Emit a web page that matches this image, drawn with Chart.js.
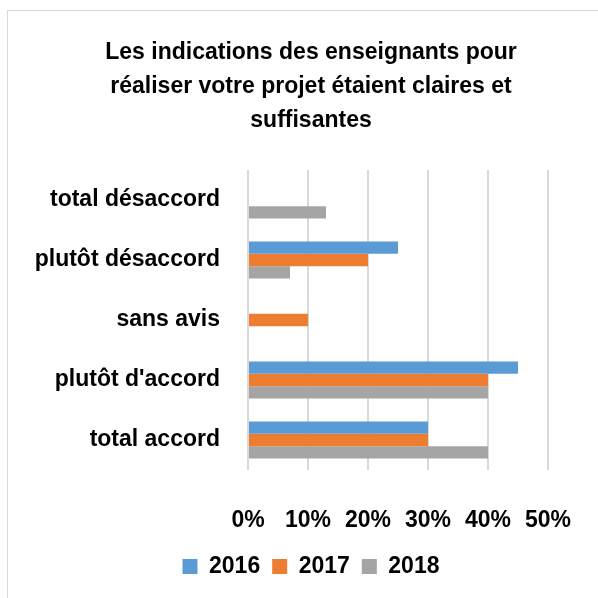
<!DOCTYPE html>
<html>
<head>
<meta charset="utf-8">
<script src="https://cdn.jsdelivr.net/npm/chart.js@4"></script>
<style>
  body { margin: 0; background: #fff; overflow: hidden; }
  #frame { position: absolute; left: 7px; top: 10px; border-left: 1px solid #d9d9d9; border-top: 1px solid #d9d9d9; }
  canvas { display: block; }
</style>
</head>
<body>
<div id="frame"><canvas id="myChart" width="606" height="600"></canvas></div>
<script>
var categories = ['total désaccord', 'plutôt désaccord', 'sans avis', "plutôt d'accord", 'total accord'];
var years = ['2016', '2017', '2018'];
var values2016 = [0, 25, 0, 45, 30];
var values2017 = [0, 20, 10, 40, 30];
var values2018 = [13, 7, 0, 40, 40];
var xTicks = [0, 10, 20, 30, 40, 50];

var font = "'Liberation Sans', Arial, sans-serif";
Chart.defaults.font.family = font;
Chart.defaults.color = '#000';

var ctx = document.getElementById('myChart').getContext('2d');
new Chart(ctx, {
    type: 'bar',
    data: {
        labels: categories,
        datasets: [
            { label: years[0], data: values2016, backgroundColor: '#5B9BD5' },
            { label: years[1], data: values2017, backgroundColor: '#ED7D31' },
            { label: years[2], data: values2018, backgroundColor: '#A5A5A5' }
        ]
    },
    options: {
        indexAxis: 'y',
        responsive: false,
        animation: false,
        categoryPercentage: 0.62,
        barPercentage: 1,
        layout: { padding: { left: 0, right: 0, top: 0, bottom: 23 } },
        scales: {
            x: {
                min: xTicks[0],
                max: xTicks[xTicks.length - 1],
                afterBuildTicks: function (scale) {
                    scale.ticks = xTicks.map(function (v) { return { value: v }; });
                },
                afterFit: function (scale) { scale.height = 73; },
                grid: { color: '#d9d9d9', lineWidth: 2, drawTicks: false },
                border: { display: false },
                ticks: {
                    padding: 37,
                    font: { size: 23, weight: 'bold' },
                    callback: function (v) { return v + '%'; }
                }
            },
            y: {
                afterFit: function (scale) { scale.width = 240; },
                grid: { display: false, drawTicks: false },
                border: { display: false },
                ticks: { padding: 28, font: { size: 23, weight: 'bold' } }
            },
            // empty spacer on the right so the plot ends where the reference does
            spacer: {
                axis: 'y',
                position: 'right',
                type: 'category',
                afterFit: function (scale) { scale.width = 66; },
                grid: { display: false },
                border: { display: false },
                ticks: { display: false }
            }
        },
        plugins: {
            title: {
                display: true,
                text: ['Les indications des enseignants pour', 'réaliser votre projet étaient claires et', 'suffisantes'],
                font: { size: 23, weight: 'bold', lineHeight: 34 / 23 },
                padding: { top: 25, bottom: 32 }
            },
            legend: {
                position: 'bottom',
                labels: {
                    boxWidth: 15,
                    boxHeight: 15,
                    padding: 12,
                    font: { size: 23, weight: 'bold' }
                }
            },
            tooltip: { enabled: false }
        }
    }
});
</script>
</body>
</html>
